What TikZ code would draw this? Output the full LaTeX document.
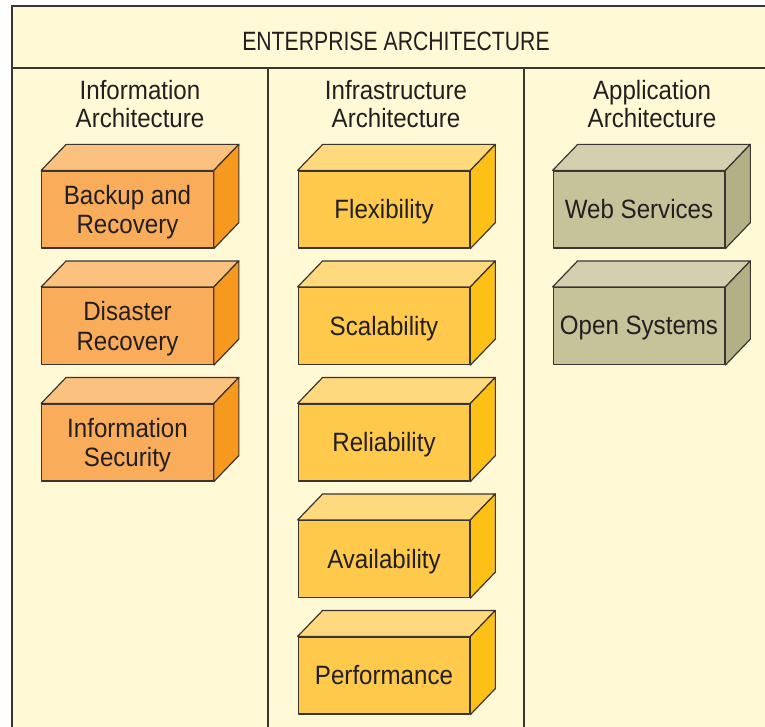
\documentclass[tikz,border=0pt]{standalone}
\usepackage{fontspec}
\usetikzlibrary{calc}
\setmainfont{Liberation Sans}
\newfontfamily\bodyfont[FakeStretch=0.91]{Liberation Sans}
\newfontfamily\titlefont[FakeStretch=0.8]{Liberation Sans}

\definecolor{paper}{HTML}{FFF9D6}
\definecolor{rule}{HTML}{3A3532}
\definecolor{ink}{HTML}{231F20}
\definecolor{orFront}{HTML}{F9AD5B}
\definecolor{orTop}{HTML}{FBC17E}
\definecolor{orSide}{HTML}{F7981F}
\definecolor{yeFront}{HTML}{FFCA4B}
\definecolor{yeTop}{HTML}{FFD97E}
\definecolor{yeSide}{HTML}{FDC016}
\definecolor{olFront}{HTML}{C6C39B}
\definecolor{olTop}{HTML}{D4D0AF}
\definecolor{olSide}{HTML}{B3B085}

\tikzset{
  frameline/.style={draw=rule, line width=2pt},
  edge/.style={draw=rule, line width=1.2pt, line join=round},
  cube/.style={edge, rectangle, minimum width=171.5pt, minimum height=77pt,
    inner sep=0pt},
  orange cube/.style={cube, fill=orFront},
  yellow cube/.style={cube, fill=yeFront},
  olive cube/.style={cube, fill=olFront},
  boxtext/.style={align=center, text=ink, inner sep=0pt,
    execute at end node=\vphantom{y},
    font=\bodyfont\fontsize{26.5}{29.5}\selectfont},
  heading/.style={align=center, text=ink, inner sep=0pt,
    font=\bodyfont\fontsize{26.5}{28.5}\selectfont},
  title/.style={text=ink, inner sep=0pt, text depth=0pt,
    font=\titlefont\fontsize{26.5}{30}\selectfont},
}

% top and side faces of a box whose front face is the node #1
\newcommand\cubefaces[3]{%
  \filldraw[edge, fill=#2] (#1.north west) -- ($(#1.north west)+(25,-26)$)
    -- ($(#1.north east)+(25,-26)$) -- (#1.north east) -- cycle;
  \filldraw[edge, fill=#3] (#1.north east) -- ($(#1.north east)+(25,-26)$)
    -- ($(#1.south east)+(25,-26)$) -- (#1.south east) -- cycle;
}
% a box: style, name, front centre, caption, top colour, side colour
\newcommand\archbox[6]{%
  \node[#1] (#2) at (#3) {};
  \cubefaces{#2}{#5}{#6}
  \node[boxtext] (#2-text) at ([yshift=-2.4pt]#2.center) {#4};
}

\begin{document}
\begin{tikzpicture}[x=1pt, y=-1pt]
  \useasboundingbox (0,0) rectangle (765,727);
  \clip (0,0) rectangle (765,727);
  \fill[white] (0,0) rectangle (765,727);

  % frame with header band and three columns
  \fill[paper] (12,6.5) rectangle (780,740);
  \draw[frameline] (12,740) -- (12,6.5) -- (780,6.5) -- (780,740);
  \draw[frameline] (12,68) -- (780,68);
  \draw[frameline] (268,68) -- (268,740);
  \draw[frameline] (524,68) -- (524,740);

  \node[title] (title) at (396,41.2) {ENTERPRISE ARCHITECTURE};

  \node[heading] (hinfo)  at (140,104) {Information\\Architecture};
  \node[heading] (hinfra) at (396,104) {Infrastructure\\Architecture};
  \node[heading] (happ)   at (652,104) {Application\\Architecture};

  % information architecture
  \archbox{orange cube}{backup}{127.5,209.5}{Backup and\\Recovery}{orTop}{orSide}
  \archbox{orange cube}{disaster}{127.5,326}{Disaster\\Recovery}{orTop}{orSide}
  \archbox{orange cube}{security}{127.5,442.5}{Information\\Security}{orTop}{orSide}

  % infrastructure architecture
  \archbox{yellow cube}{flex}{384,209.5}{Flexibility}{yeTop}{yeSide}
  \archbox{yellow cube}{scale}{384,326}{Scalability}{yeTop}{yeSide}
  \archbox{yellow cube}{rel}{384,442.5}{Reliability}{yeTop}{yeSide}
  \archbox{yellow cube}{avail}{384,559}{Availability}{yeTop}{yeSide}
  \archbox{yellow cube}{perf}{384,675.5}{Performance}{yeTop}{yeSide}

  % application architecture
  \archbox{olive cube}{web}{639,209.5}{Web Services}{olTop}{olSide}
  \archbox{olive cube}{open}{639,326}{Open Systems}{olTop}{olSide}
\end{tikzpicture}
\end{document}
